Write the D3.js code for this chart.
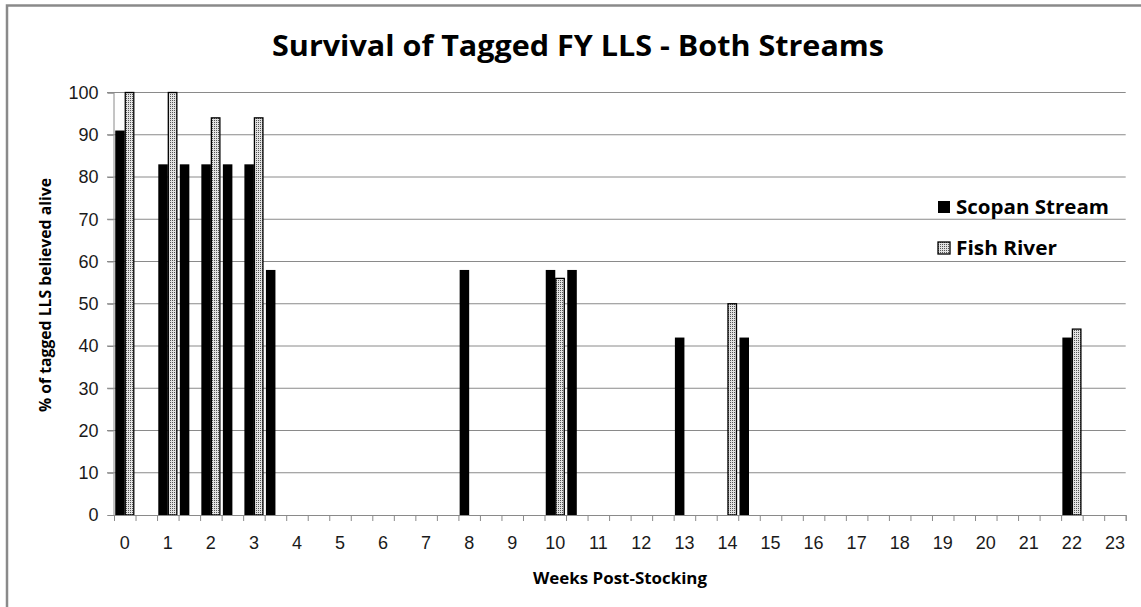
<!DOCTYPE html>
<html>
<head>
<meta charset="utf-8">
<script src="https://cdn.jsdelivr.net/npm/d3@7"></script>
<style>
  body { margin: 0; background: #fff; }
  svg { display: block; font-family: "Open Sans", sans-serif; }
</style>
</head>
<body>
<svg id="chart" width="1141" height="607"></svg>
<script>
// category slots on the x axis (only every other one carries a label)
let weekLabels = ["0", "", "1", "", "2", "", "3", "", "4", "", "5", "", "6", "", "7", "", "8", "", "9", "", "10", "", "11", "",
	"12", "", "13", "", "14", "", "15", "", "16", "", "17", "", "18", "", "19", "", "20", "", "21", "", "22", "", "23"];

// % alive per slot, null = no reading
let scopanValues = [91, null, 83, 83, 83, 83, 83, 58, null, null, null, null, null, null, null, null, 58, null, null, null, 58, 58, null, null,
	null, null, 42, null, null, 42, null, null, null, null, null, null, null, null, null, null, null, null, null, null, 42, null, null];
let fishValues = [100, null, 100, null, 94, null, 94, null, null, null, null, null, null, null, null, null, null, null, null, null, 56, null, null, null,
	null, null, null, null, 50, null, null, null, null, null, null, null, null, null, null, null, null, null, null, null, 44, null, null];

let yTicks = [0, 10, 20, 30, 40, 50, 60, 70, 80, 90, 100];
let seriesNames = ["Scopan Stream", "Fish River"];

let svg = d3.select("#chart");
let gridColor = "#8a8a8a";

let defs = svg.append("defs");
let pat = defs.append("pattern").attr("id", "dots").attr("width", 2).attr("height", 2).attr("patternUnits", "userSpaceOnUse");
pat.append("rect").attr("width", 2).attr("height", 2).attr("fill", "#e2e2e2");
pat.append("rect").attr("width", 1).attr("height", 1).attr("fill", "#555");

// outer chart border (right and bottom edges fall outside the picture)
svg.append("rect").attr("x", 7).attr("y", 5.5).attr("width", 1200).attr("height", 700)
	.attr("fill", "none").attr("stroke", gridColor).attr("stroke-width", 2.5);

let x = d3.scaleBand().domain(d3.range(weekLabels.length)).range([114, 1125.7]).padding(0);
let xEdge = d3.scaleLinear().domain([0, weekLabels.length]).range([114, 1125.7]);
let sub = d3.scaleBand().domain(["scopan", "fish"]).range([0, x.bandwidth()]).paddingInner(0).paddingOuter(0.13);
let y = d3.scaleLinear().domain([0, 100]).range([515, 92.5]);

// gridlines
svg.append("g").selectAll("line").data(yTicks.filter(d => d > 0)).enter().append("line")
	.attr("x1", 107).attr("x2", 1125.7).attr("y1", d => y(d)).attr("y2", d => y(d))
	.attr("stroke", gridColor).attr("stroke-width", 1);

// y axis
let yAxis = svg.append("g").attr("transform", "translate(113.5,0)")
	.call(d3.axisLeft(y).tickValues(yTicks).tickSize(6).tickPadding(9));
yAxis.select(".domain").attr("stroke", gridColor);
yAxis.selectAll(".tick line").attr("stroke", gridColor);
yAxis.selectAll("text").attr("font-size", 18).attr("fill", "#1a1a1a");

// bars
let scopanData = scopanValues.map((v, i) => ({i: i, v: v})).filter(d => d.v != null);
let fishData = fishValues.map((v, i) => ({i: i, v: v})).filter(d => d.v != null);

svg.append("g").selectAll("rect").data(scopanData).enter().append("rect")
	.attr("x", d => x(d.i) + sub("scopan"))
	.attr("width", sub.bandwidth())
	.attr("y", d => y(d.v))
	.attr("height", d => y(0) - y(d.v))
	.attr("fill", "#000");

svg.append("g").selectAll("rect").data(fishData).enter().append("rect")
	.attr("x", d => x(d.i) + sub("fish") + 0.5)
	.attr("width", sub.bandwidth() - 1)
	.attr("y", d => y(d.v))
	.attr("height", d => y(0) - y(d.v))
	.attr("fill", "url(#dots)")
	.attr("stroke", "#000").attr("stroke-width", 1.3);

// x axis: ticks at slot edges, labels in slot centres
let xTicks = svg.append("g").attr("transform", "translate(0,515)")
	.call(d3.axisBottom(xEdge).tickValues(d3.range(weekLabels.length + 1)).tickSize(6).tickFormat(""));
xTicks.select(".domain").attr("stroke", gridColor);
xTicks.selectAll(".tick line").attr("stroke", gridColor);

let xLabels = svg.append("g").attr("transform", "translate(0,515)")
	.call(d3.axisBottom(x).tickSize(0).tickPadding(21).tickFormat(i => weekLabels[i]));
xLabels.select(".domain").remove();
xLabels.selectAll("text").attr("font-size", 18).attr("fill", "#1a1a1a");

// titles
svg.append("text").attr("x", 578).attr("y", 56).attr("text-anchor", "middle")
	.attr("font-size", 29).attr("font-weight", "bold").attr("fill", "#000")
	.attr("textLength", 612).attr("lengthAdjust", "spacingAndGlyphs")
	.text("Survival of Tagged FY LLS - Both Streams");

svg.append("text").attr("transform", "translate(51,295) rotate(-90)").attr("text-anchor", "middle")
	.attr("font-size", 16).attr("font-weight", "bold").attr("fill", "#000")
	.attr("textLength", 234).attr("lengthAdjust", "spacingAndGlyphs")
	.text("% of tagged LLS believed alive");

svg.append("text").attr("x", 620).attr("y", 584).attr("text-anchor", "middle")
	.attr("font-size", 16).attr("font-weight", "bold").attr("fill", "#000")
	.attr("textLength", 174).attr("lengthAdjust", "spacingAndGlyphs")
	.text("Weeks Post-Stocking");

// legend
let legend = svg.append("g").selectAll("g").data(seriesNames).enter().append("g")
	.attr("transform", (d, i) => "translate(938," + (201 + i * 41) + ")");
legend.append("rect").attr("width", 12).attr("height", 12)
	.attr("fill", (d, i) => i === 0 ? "#000" : "url(#dots)")
	.attr("stroke", "#000").attr("stroke-width", (d, i) => i === 0 ? 0 : 1.3);
legend.append("text").attr("x", 18).attr("y", 13)
	.attr("font-size", 19).attr("font-weight", "bold").attr("fill", "#000")
	.attr("textLength", (d, i) => i === 0 ? 153 : 101).attr("lengthAdjust", "spacingAndGlyphs")
	.text(d => d);
</script>
</body>
</html>
